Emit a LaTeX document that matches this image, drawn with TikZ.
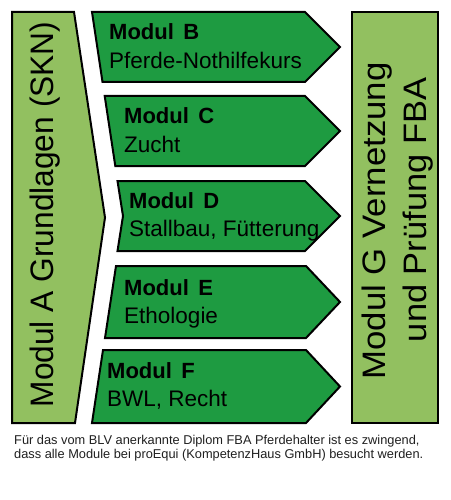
\documentclass[tikz,border=0pt]{standalone}
\usepackage{fontspec}
\setmainfont{Liberation Sans}
\definecolor{lightg}{HTML}{92C060}
\definecolor{darkg}{HTML}{1E9B41}
\definecolor{footgray}{HTML}{202020}
\tikzset{
  shapeA/.style={draw=black, line width=2pt, fill=lightg, line join=miter},
  arrowbox/.style={draw=black, line width=2pt, fill=darkg, line join=miter},
  titletxt/.style={anchor=base west, inner sep=0pt, font=\fontsize{22}{24}\selectfont\bfseries},
  subtxt/.style={anchor=base west, inner sep=0pt, font=\fontsize{22.5}{26}\selectfont},
  verttxt/.style={anchor=base, inner sep=0pt, rotate=90, font=\fontsize{32.5}{36}\selectfont},
  foottxt/.style={anchor=base west, inner sep=0pt, font=\fontsize{12.8}{14}\selectfont, text=footgray}
}
\begin{document}
\begin{tikzpicture}[x=1pt,y=-1pt]
\useasboundingbox (0,0) rectangle (450,500);
\fill[white] (0,0) rectangle (450,500);
% Modul A
\draw[shapeA] (12,12) -- (74,12) -- (105,217.5) -- (75,423) -- (12,423) -- cycle;
% Modul G
\draw[shapeA] (352,12) rectangle (438,423);
% arrows
\draw[arrowbox] (92,12) -- (305,12) -- (340,47) -- (305,82) -- (102.5,82) -- cycle;
\draw[arrowbox] (104.7,96) -- (305,96) -- (340,131) -- (305,166) -- (115.3,166) -- cycle;
\draw[arrowbox] (117.5,181) -- (305,181) -- (340,216) -- (305,251) -- (117.5,251) -- (123,216) -- cycle;
\draw[arrowbox] (116,266) -- (306,266) -- (340,302) -- (306,338) -- (105,338) -- cycle;
\draw[arrowbox] (103,350) -- (306,350) -- (340,386.5) -- (306,423) -- (92,423) -- cycle;
% texts
\node[titletxt] (bt) at (109,40) {Modul\hspace{9.5pt}B};
\node[subtxt] (bs) at (109,68.5) {Pferde-Nothilfekurs};
\node[titletxt] (ct) at (124,124) {Modul\hspace{9.5pt}C};
\node[subtxt] (cs) at (124,152.5) {Zucht};
\node[titletxt] (dt) at (129,208) {Modul\hspace{9.5pt}D};
\node[subtxt] (ds) at (129,236.5) {Stallbau, Fütterung};
\node[titletxt] (et) at (124,295) {Modul\hspace{9.5pt}E};
\node[subtxt] (es) at (124,323.5) {Ethologie};
\node[titletxt] (ft) at (107,378) {Modul\hspace{9.5pt}F};
\node[subtxt] (fs) at (107,406.5) {BWL, Recht};
\node[verttxt] (at) at (53,214.5) {\scalebox{0.975}[1]{Modul A Grundlagen (SKN)}};
\node[verttxt] (g1) at (385,221) {\scalebox{1.07}[1]{Modul G Vernetzung}};
\node[verttxt] (g2) at (426,210) {\scalebox{1.06}[1]{und Prüfung FBA}};
\node[foottxt] (f1) at (14,444) {Für das vom BLV anerkannte Diplom FBA Pferdehalter ist es zwingend,};
\node[foottxt] (f2) at (14,458) {dass alle Module bei proEqui (KompetenzHaus GmbH) besucht werden.};
\end{tikzpicture}
\end{document}
